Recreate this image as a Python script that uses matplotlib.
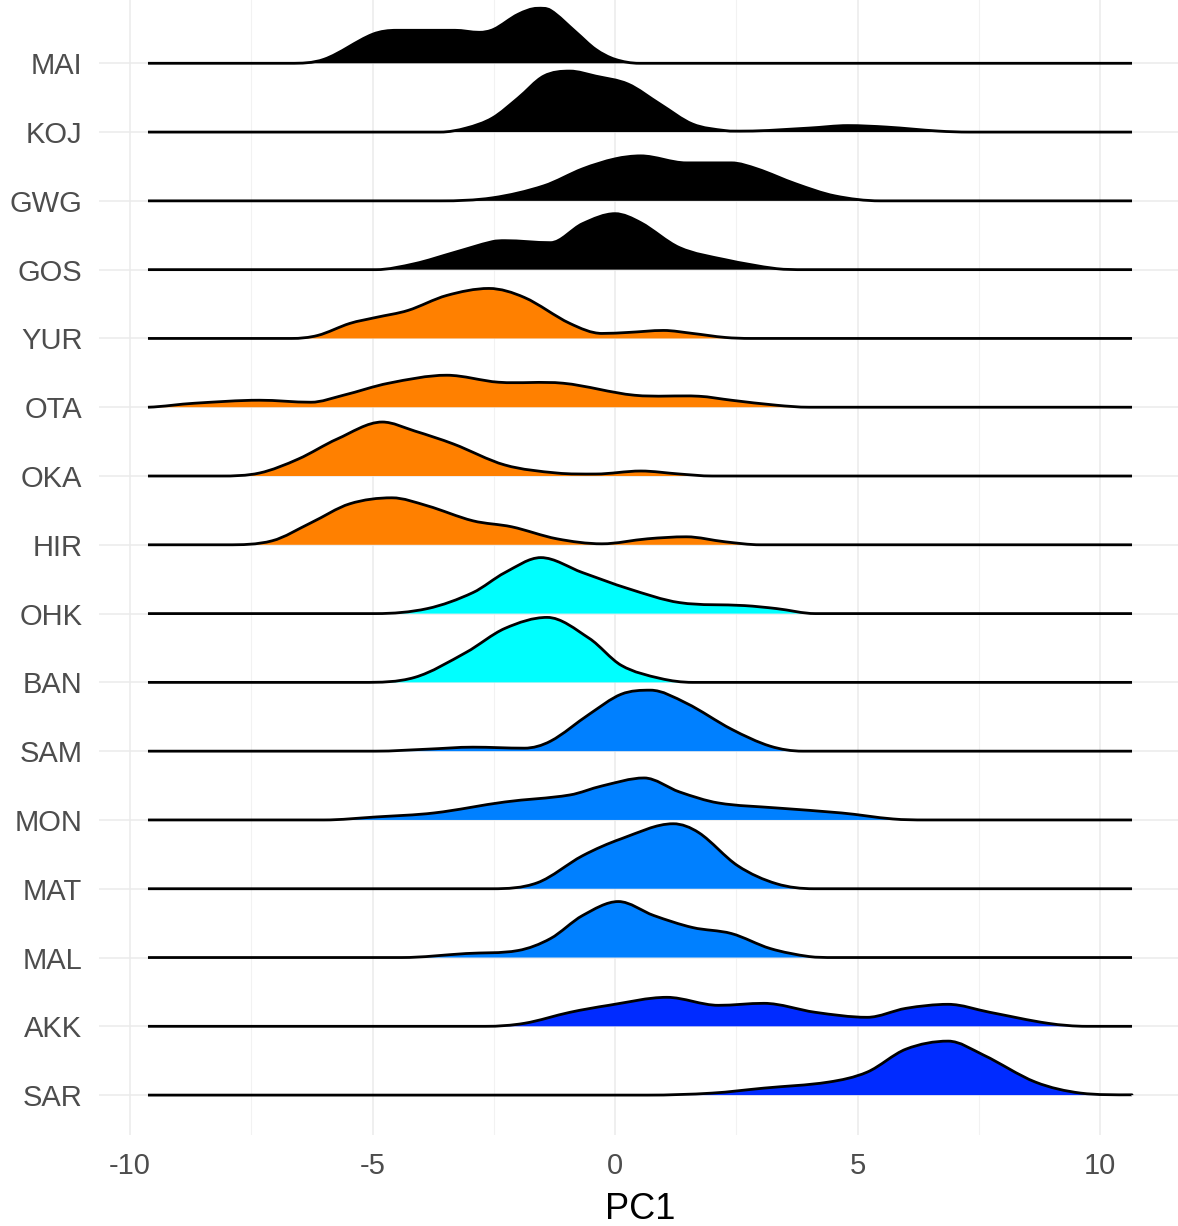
import matplotlib.pyplot as plt
from matplotlib.path import Path
from matplotlib.patches import PathPatch
import numpy as np

plt.rcParams['font.family'] = ['Liberation Sans', 'DejaVu Sans']

# groups from top to bottom
groups = ['MAI', 'KOJ', 'GWG', 'GOS', 'YUR', 'OTA', 'OKA', 'HIR',
          'OHK', 'BAN', 'SAM', 'MON', 'MAT', 'MAL', 'AKK', 'SAR']

colors = ['#000000', '#000000', '#000000', '#000000',
          '#FF8000', '#FF8000', '#FF8000', '#FF8000',
          '#00FFFF', '#00FFFF',
          '#0080FF', '#0080FF', '#0080FF', '#0080FF',
          '#002BFF', '#002BFF']

# density estimates (PC1 position, relative density) per group
mai_x = [-6.7, -6.0, -5.0, -4.5, -3.3, -2.8, -2.5, -2.0, -1.6, -1.33, -0.8, -0.4, 0.0, 0.5]
mai_d = [0, 4, 29, 33, 33, 31, 34, 49, 55, 53, 31, 14, 4, 0]

koj_x = [-3.6, -3.07, -2.53, -2.0, -1.47, -0.93, -0.4, 0.27, 0.93, 1.6, 2.27, 2.67, 4.0, 4.8, 5.6, 6.67, 7.3]
koj_d = [0, 4, 14, 34, 56, 61, 56, 48, 28, 8, 1.5, 1, 4, 6.5, 5, 1, 0]

gwg_x = [-3.6, -2.53, -1.47, -0.67, 0.0, 0.53, 1.47, 2.4, 2.93, 3.73, 4.53, 5.47]
gwg_d = [0, 3, 15, 32, 42, 45, 38, 38, 32, 17, 5, 0]

gos_x = [-4.93, -4.13, -3.33, -2.53, -2.27, -1.33, -0.67, 0.0, 0.53, 1.33, 2.27, 3.33, 3.9]
gos_d = [0, 6, 17, 28, 29, 27, 46, 56, 47, 22, 10, 1, 0]

yur_x = [-6.67, -6.13, -5.47, -4.93, -4.27, -3.47, -2.6, -1.87, -0.93, -0.27, 0.27, 1.0, 1.6, 2.27, 2.8]
yur_d = [0, 3, 15, 21, 28, 43, 50, 41, 15, 5, 6, 8, 5, 1, 0]

ota_x = [-9.63, -8.67, -7.33, -6.27, -5.6, -4.67, -3.47, -2.4, -1.07, 0.4, 1.73, 2.4, 3.33, 4.0]
ota_d = [0.5, 4, 7, 5, 12, 24, 32, 25, 24, 12, 11, 7, 2, 0]

oka_x = [-8.13, -7.33, -6.53, -5.73, -4.8, -4.13, -3.33, -2.27, -1.2, -0.4, 0.53, 1.33, 2.0]
oka_d = [0, 3, 17, 37, 54, 45, 32, 11, 3, 2, 5, 2, 0]

hir_x = [-8.0, -7.07, -6.27, -5.47, -4.6, -3.87, -2.93, -2.13, -1.2, -0.27, 0.67, 1.47, 2.27, 3.0]
hir_d = [0, 4, 22, 41, 47, 39, 24, 18, 6, 1, 6, 8, 3, 0]

ohk_x = [-4.93, -3.87, -2.93, -2.27, -1.53, -0.67, 0.27, 1.33, 2.67, 3.33, 4.13]
ohk_d = [0, 5, 21, 41, 56, 41, 25, 11, 8, 5, 0]

ban_x = [-5.2, -4.13, -3.07, -2.27, -1.4, -0.53, 0.13, 0.93, 1.6]
ban_d = [0, 5, 30, 54, 65, 44, 17, 4, 0]

sam_x = [-4.93, -3.87, -2.93, -1.87, -1.33, -0.53, 0.13, 0.73, 1.47, 2.4, 3.2, 3.87]
sam_d = [0, 2, 4, 3, 10, 37, 57, 61, 48, 22, 5, 0]

mon_x = [-6.0, -4.93, -3.73, -2.27, -0.93, -0.27, 0.6, 1.33, 2.13, 3.33, 4.67, 5.73, 6.4]
mon_d = [0, 3, 7, 18, 25, 34, 42, 28, 17, 12, 7, 1, 0]

mat_x = [-2.53, -1.6, -0.67, 0.13, 1.2, 1.73, 2.53, 3.33, 4.1]
mat_d = [0, 6, 33, 50, 65, 56, 23, 5, 0]

mal_x = [-4.4, -3.07, -2.0, -1.33, -0.67, 0.07, 0.8, 1.6, 2.4, 3.2, 4.0, 4.5]
mal_d = [0, 4, 7, 19, 42, 56, 42, 30, 24, 9, 1, 0]

akk_x = [-2.67, -1.87, -0.93, -0.13, 1.07, 2.13, 3.07, 4.13, 5.2, 6.0, 6.87, 7.73, 8.93, 9.73]
akk_d = [0, 3, 14, 21, 29, 21, 23, 14, 9, 18, 22, 14, 3, 0]

sar_x = [0.67, 2.0, 3.07, 4.4, 5.2, 6.0, 6.87, 7.6, 8.67, 9.6, 10.66]
sar_d = [0, 2, 7, 13, 23, 46, 54, 40, 13, 2, 0.3]

ridge_x = [mai_x, koj_x, gwg_x, gos_x, yur_x, ota_x, oka_x, hir_x,
           ohk_x, ban_x, sam_x, mon_x, mat_x, mal_x, akk_x, sar_x]
ridge_d = [mai_d, koj_d, gwg_d, gos_d, yur_d, ota_d, oka_d, hir_d,
           ohk_d, ban_d, sam_d, mon_d, mat_d, mal_d, akk_d, sar_d]

x_min, x_max = -9.63, 10.66
d_scale = 1 / 68.8


def ridge_path(xs, ys, base):
    """Smooth curve through the points as cubic Bezier segments.
    Central-difference slopes, flat at the ends and at peaks/valleys."""
    m = np.zeros(len(xs))
    m[1:-1] = (ys[2:] - ys[:-2]) / (xs[2:] - xs[:-2])
    d = np.diff(ys)
    turn = np.r_[True, d[:-1] * d[1:] <= 0, True]
    m[turn] = 0
    verts = [(xs[0], ys[0])]
    codes = [Path.MOVETO]
    for i in range(len(xs) - 1):
        dx = (xs[i + 1] - xs[i]) / 3
        c1 = max(ys[i] + m[i] * dx, base)
        c2 = max(ys[i + 1] - m[i + 1] * dx, base)
        verts += [(xs[i] + dx, c1), (xs[i + 1] - dx, c2), (xs[i + 1], ys[i + 1])]
        codes += [Path.CURVE4] * 3
    return verts, codes


fig = plt.figure(figsize=(11.78, 12.26), dpi=100)
# panel runs a little past the right edge of the figure
ax = fig.add_axes([99 / 1178, 1 - 1135 / 1226, 1082 / 1178, 1135 / 1226])

n = len(groups)
for i, name in enumerate(groups):
    base = n - 1 - i
    xs = np.array(ridge_x[i], dtype=float)
    ys = base + np.array(ridge_d[i], dtype=float) * d_scale
    verts, codes = ridge_path(xs, ys, base)

    # filled area down to the baseline
    fill_verts = verts + [(xs[-1], base), (xs[0], base), (xs[0], base)]
    fill_codes = codes + [Path.LINETO, Path.LINETO, Path.CLOSEPOLY]
    ax.add_patch(PathPatch(Path(fill_verts, fill_codes), facecolor=colors[i],
                           edgecolor='none', zorder=2 + i))

    # outline across the whole data range
    line_verts = [(x_min, base), (xs[0], base)] + verts[1:] + [(x_max, base)]
    line_codes = [Path.MOVETO, Path.LINETO] + codes[1:] + [Path.LINETO]
    ax.add_patch(PathPatch(Path(line_verts, line_codes), facecolor='none',
                           edgecolor='black', linewidth=2.0, zorder=2 + i,
                           capstyle='butt', joinstyle='round'))

ax.set_xlim(-10.64, 11.67)
ax.set_ylim(-0.58, 15.92)

ax.set_xticks([-10, -5, 0, 5, 10])
ax.set_xticklabels(['-10', '-5', '0', '5', '10'])
ax.set_xticks([-7.5, -2.5, 2.5, 7.5], minor=True)
ax.set_yticks(range(n))
ax.set_yticklabels(groups[::-1])

ax.grid(True, which='major', color='#EBEBEB', linewidth=1.1, zorder=0)
ax.grid(True, which='minor', axis='x', color='#F2F2F2', linewidth=0.8, zorder=0)
ax.set_axisbelow(True)

for s in ax.spines.values():
    s.set_visible(False)
ax.tick_params(axis='both', which='both', length=0, labelsize=21, labelcolor='#4D4D4D')
ax.tick_params(axis='y', pad=12)
ax.tick_params(axis='x', pad=12)

ax.set_xlabel('PC1', fontsize=26, labelpad=9)

plt.savefig('out.png', dpi=100)
